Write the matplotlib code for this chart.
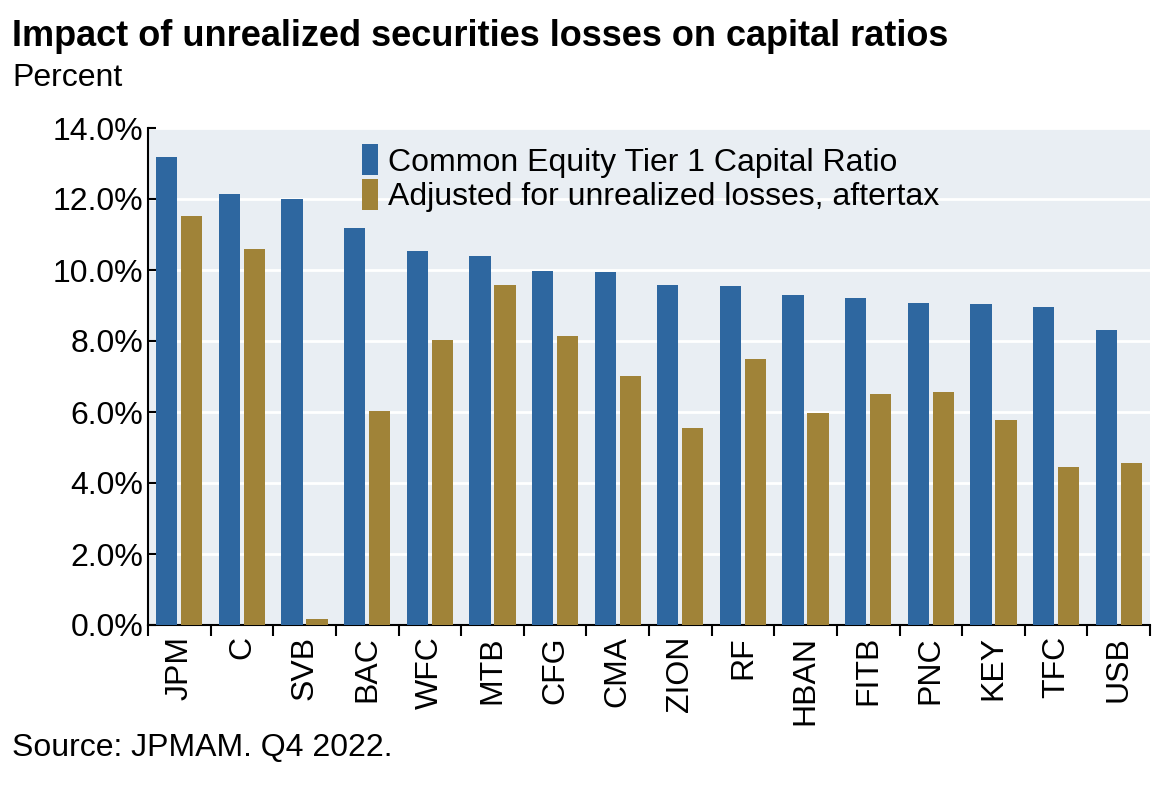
import matplotlib
matplotlib.use("Agg")
import matplotlib.pyplot as plt
import numpy as np
from matplotlib.ticker import FuncFormatter

banks = ["JPM","C","SVB","BAC","WFC","MTB","CFG","CMA","ZION","RF","HBAN","FITB","PNC","KEY","TFC","USB"]
cet1 = [13.19,12.15,12.0,11.17,10.54,10.39,9.97,9.94,9.59,9.55,9.30,9.22,9.06,9.04,8.95,8.31]
adjusted = [11.51,10.58,0.17,6.03,8.04,9.57,8.15,7.01,5.56,7.48,5.97,6.51,6.57,5.78,4.45,4.57]

plt.rcParams['font.family'] = ['Liberation Sans', 'DejaVu Sans']
fig = plt.figure(figsize=(11.70, 7.91), dpi=100)
fig.patch.set_facecolor('white')
ax = fig.add_axes([148/1170, 1-625/791, (1150-148)/1170, (625-128)/791])
ax.set_facecolor('#e9eef3')
x = np.arange(len(banks))
w = 0.34
ax.bar(x - w/2 - 0.03, cet1, w, color='#2e67a0', label='Common Equity Tier 1 Capital Ratio', zorder=3)
ax.bar(x + w/2 + 0.03, adjusted, w, color='#a08338', label='Adjusted for unrealized losses, aftertax', zorder=3)
ax.set_ylim(0, 14)
ax.set_xlim(-0.5, len(banks) - 0.5)
ax.set_yticks(np.arange(0, 14.1, 2))
ax.yaxis.set_major_formatter(FuncFormatter(lambda v, p: f"{v:.1f}%"))
ax.grid(axis='y', color='white', linewidth=2, zorder=1)
ax.set_xticks(np.arange(-0.5, len(banks), 1), minor=True)
ax.set_xticks(x)
ax.set_xticklabels(banks, rotation=90, fontsize=23)
ax.tick_params(axis='x', which='major', length=0, pad=8)
ax.tick_params(axis='x', which='minor', length=8, width=1.5, color='black')
ax.tick_params(axis='y', labelsize=23, length=6, width=1.5, direction='in')
for s in ['top', 'right']:
    ax.spines[s].set_visible(False)
ax.spines['left'].set_linewidth(1.5)
ax.spines['bottom'].set_linewidth(1.5)
leg = ax.legend(loc='upper left', bbox_to_anchor=(0.185, 1.025), fontsize=23, frameon=False,
                handlelength=0.5, handleheight=1.1, handletextpad=0.3, labelspacing=0.05)
fig.text(12/1170, 1-36/791, "Impact of unrealized securities losses on capital ratios", fontsize=26, fontweight='bold', va='center')
fig.text(12/1170, 1-78/791, "Percent", fontsize=23, va='center')
fig.text(12/1170, 1-748/791, "Source: JPMAM. Q4 2022.", fontsize=23, va='center')
fig.savefig("out.png", dpi=100)
